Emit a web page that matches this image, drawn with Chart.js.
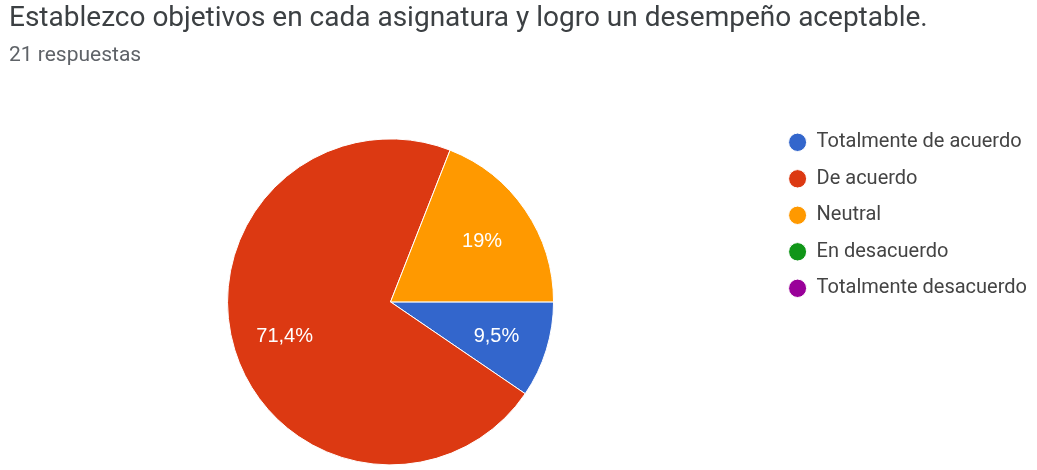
<!DOCTYPE html>
<html>
<head>
<meta charset="utf-8">
<script src="https://cdn.jsdelivr.net/npm/chart.js@4"></script>
<style>
  html, body { margin: 0; padding: 0; background: #fff; }
  #wrap { width: 1037px; height: 470px; overflow: hidden; }
  #box { width: 1037px; height: 500px; }
</style>
</head>
<body>
<div id="wrap">
  <div id="box"><canvas id="chartPie"></canvas></div>
</div>
<script>
/* =========================
   DATA
========================= */
const judul = "Establezco objetivos en cada asignatura y logro un desempeño aceptable.";
const subjudul = "21 respuestas";
const kategori = ["Totalmente de acuerdo", "De acuerdo", "Neutral", "En desacuerdo", "Totalmente desacuerdo"];
const jawaban = [2, 15, 4, 0, 0];
const labelPersen = ["9,5%", "71,4%", "19%", "", ""];
const warna = ["#3366cc", "#dc3912", "#ff9900", "#109618", "#990099"];

/* =========================
   LABEL DI DALAM SLICE
========================= */
const labelSlice = {
  id: "labelSlice",
  afterDatasetsDraw(chart) {
    const ctx = chart.ctx;
    const meta = chart.getDatasetMeta(0);
    ctx.save();
    ctx.font = "20px 'Liberation Sans', Arial, sans-serif";
    ctx.fillStyle = "#ffffff";
    ctx.textAlign = "center";
    ctx.textBaseline = "middle";
    meta.data.forEach((arc, i) => {
      if (!labelPersen[i]) return;
      const p = arc.getProps(["x", "y", "startAngle", "endAngle", "outerRadius"], true);
      const mid = (p.startAngle + p.endAngle) / 2;
      const r = p.outerRadius * 0.68;
      ctx.fillText(labelPersen[i], p.x + Math.cos(mid) * r, p.y + Math.sin(mid) * r + 2);
    });
    ctx.restore();
  }
};

/* =========================
   GRAFIK
========================= */
new Chart(document.getElementById("chartPie"), {
  type: "pie",
  data: {
    labels: kategori,
    datasets: [{
      data: jawaban,
      backgroundColor: warna,
      borderColor: "#ffffff",
      borderWidth: 1
    }]
  },
  options: {
    responsive: true,
    maintainAspectRatio: false,
    animation: false,
    rotation: 90,
    radius: 163,
    layout: { padding: { left: 9, right: 0, top: 0, bottom: 12 } },
    plugins: {
      title: {
        display: true,
        text: judul,
        align: "start",
        color: "#3c4043",
        font: { family: "Roboto", size: 28, weight: "normal" },
        padding: { top: 2, bottom: 8 }
      },
      subtitle: {
        display: true,
        text: subjudul,
        align: "start",
        color: "#5f6368",
        font: { family: "Roboto", size: 21 },
        padding: { top: 0, bottom: 47 }
      },
      legend: {
        position: "right",
        align: "start",
        fullSize: false,
        labels: {
          usePointStyle: true,
          pointStyle: "circle",
          pointStyleWidth: 18,
          boxHeight: 13,
          padding: 16.5,
          color: "#444444",
          font: { family: "Roboto", size: 20 }
        }
      },
      tooltip: { enabled: false }
    }
  },
  plugins: [labelSlice]
});
</script>
</body>
</html>
